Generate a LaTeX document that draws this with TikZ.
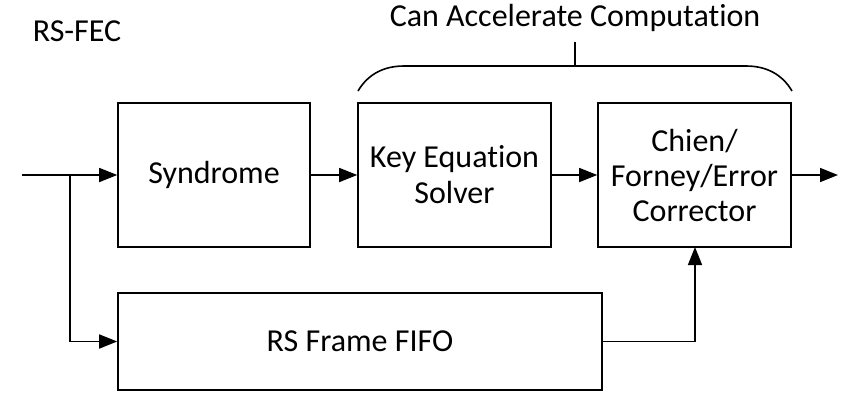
\documentclass[tikz,border=0pt]{standalone}
\usepackage{fontspec}
\setmainfont{Carlito}[Ligatures=NoCommon]
\usetikzlibrary{arrows.meta}
\begin{document}
\begin{tikzpicture}[x=1pt,y=-1pt,
  blockbox/.style={draw,line width=1.6pt,minimum height=144pt,align=center,
    font=\fontsize{32}{36}\selectfont,inner sep=0pt},
  flow/.style={line width=1.6pt,-{Triangle[length=18pt,width=14pt]}},
  plain/.style={line width=1.6pt},
  lbl/.style={font=\fontsize{32}{36}\selectfont,inner sep=0pt}]
\useasboundingbox (0,0) rectangle (842,392);

% processing blocks
\node[blockbox,minimum width=192pt] (syn) at (214,175) {Syndrome};
\node[blockbox,minimum width=193pt] (kes) at (454.5,175) {Key Equation\\Solver};
\node[blockbox,minimum width=193pt,font=\fontsize{32}{35}\selectfont] (cfe) at (694.5,175) {Chien/\\Forney/Error\\Corrector};
\node[blockbox,minimum width=484pt,minimum height=97pt] (fifo) at (360,341.5) {RS Frame FIFO};

% labels
\node[lbl] (title) at (77,31) {RS-FEC};
\node[lbl] (accel) at (575,18) {Can Accelerate Computation};

% data path
\coordinate (in) at (22,175);
\coordinate (split) at (70,175);
\coordinate (out) at (838,175);
\coordinate (up) at (695,247);
\draw[flow] (in) -- (syn.west);
\draw[flow] (syn.east) -- (kes.west);
\draw[flow] (kes.east) -- (cfe.west);
\draw[flow] (cfe.east) -- (out);
\draw[flow] (split) |- (fifo.west);
\draw[flow] (fifo.east) -| (up);

% brace over the accelerable stages
\coordinate (bl) at (358,91);
\coordinate (br) at (792,91);
\coordinate (btop) at (575,66);
\coordinate (btick) at (575,42);
\draw[plain] (bl) .. controls (368,74) and (384,66) .. (404,66) -- (746,66)
  .. controls (766,66) and (782,74) .. (br);
\draw[plain] (btop) -- (btick);
\end{tikzpicture}
\end{document}
